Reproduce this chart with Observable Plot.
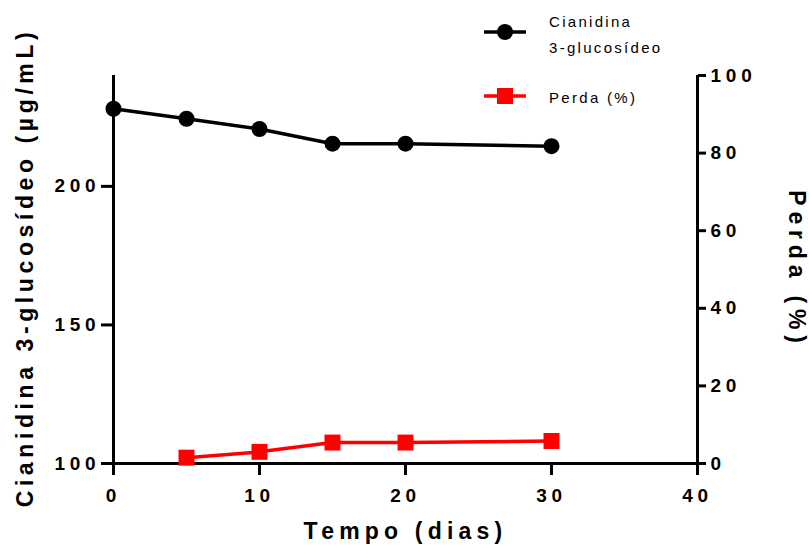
<!DOCTYPE html>
<html>
<head>
<meta charset="utf-8">
<script src="https://cdn.jsdelivr.net/npm/d3@7"></script>
<script src="https://cdn.jsdelivr.net/npm/@observablehq/plot@0.6"></script>
<style>
  html, body { margin: 0; padding: 0; background: #fff; }
  #wrap { position: relative; width: 809px; height: 553px; }
  #chart svg { display: block; font-family: "Liberation Sans", Arial, sans-serif; }
  #chart g[aria-label$="tick label"] text { letter-spacing: 4.8px; }
  #legend { position: absolute; left: 0; top: 0; pointer-events: none; font-family: "Liberation Sans", Arial, sans-serif; }
</style>
</head>
<body>
<div id="wrap">
  <div id="chart"></div>
  <svg id="legend" width="809" height="120"></svg>
</div>
<script>
// ---- data ----
const tempoC3G = [0, 5, 10, 15, 20, 30];
const c3g = [228.0, 224.4, 220.7, 215.4, 215.4, 214.5];
const tempoPerda = [5, 10, 15, 20, 30];
const perda = [1.5, 3.0, 5.4, 5.4, 5.8];

const xTicks = [0, 10, 20, 30, 40];
const leftTicks = [100, 150, 200];
const rightTicks = [0, 20, 40, 60, 80, 100];

const xLabel = "Tempo (dias)";
const leftLabel = "Cianidina 3-glucosídeo (µg/mL)";
const rightLabel = "Perda (%)";
const seriesNames = ["Cianidina", "3-glucosídeo", "Perda (%)"];

// right axis (0–100 %) mapped onto the left axis domain (100–240)
const leftMin = 100, leftMax = 240;
const toLeft = p => leftMin + p * (leftMax - leftMin) / 100;
const fromLeft = v => Math.round((v - leftMin) * 100 / (leftMax - leftMin));

const c3gData = tempoC3G.map((t, i) => ({t, v: c3g[i]}));
const perdaData = tempoPerda.map((t, i) => ({t, v: toLeft(perda[i])}));

const font = {fontSize: 19, fontWeight: "bold"};

const plot = Plot.plot({
  width: 809,
  height: 553,
  marginLeft: 113,
  marginRight: 112,
  marginTop: 75,
  marginBottom: 90,
  style: {fontFamily: "'Liberation Sans', Arial, sans-serif", color: "#000", background: "#fff"},
  x: {domain: [0, 40]},
  y: {domain: [leftMin, leftMax]},
  marks: [
    Plot.axisX({ticks: xTicks, tickSize: 12, tickPadding: 13, strokeWidth: 3, label: null, ...font, tickFormat: d => String(d)}),
    Plot.axisY({anchor: "left", ticks: leftTicks, tickSize: 12, tickPadding: 1, strokeWidth: 3, label: null, ...font, tickFormat: d => String(d)}),
    Plot.axisY({anchor: "right", ticks: rightTicks.map(toLeft), tickSize: 8, tickPadding: 5, strokeWidth: 3, label: null, ...font, tickFormat: fromLeft}),
    Plot.ruleX([0, 40], {strokeWidth: 3}),
    Plot.ruleY([leftMin], {strokeWidth: 3}),
    Plot.line(perdaData, {x: "t", y: "v", stroke: "#ff0000", strokeWidth: 3.5}),
    Plot.dot(perdaData, {x: "t", y: "v", symbol: "square", r: 9, fill: "#ff0000", stroke: null}),
    Plot.line(c3gData, {x: "t", y: "v", stroke: "#000", strokeWidth: 3.5}),
    Plot.dot(c3gData, {x: "t", y: "v", r: 8, fill: "#000", stroke: null}),
    Plot.text([xLabel], {frameAnchor: "bottom", textAnchor: "middle", dy: 75, fontSize: 23, fontWeight: "bold", fill: "#000"}),
    Plot.text([leftLabel], {frameAnchor: "left", textAnchor: "middle", dx: -87.5, dy: -2, rotate: -90, fontSize: 23, fontWeight: "bold", fill: "#000"}),
    Plot.text([rightLabel], {frameAnchor: "right", textAnchor: "middle", dx: 99, dy: 0, rotate: 90, fontSize: 23, fontWeight: "bold", fill: "#000"})
  ]
});
document.getElementById("chart").appendChild(plot);

const svg = d3.select(plot);
svg.selectAll("text").filter(function() { return this.textContent === xLabel; }).style("letter-spacing", "5.2px");
svg.selectAll("text").filter(function() { return this.textContent === leftLabel; }).style("letter-spacing", "4.6px");
svg.selectAll("text").filter(function() { return this.textContent === rightLabel; }).style("letter-spacing", "5.8px");

// legend
const lg = d3.select("#legend");
lg.append("line").attr("x1", 484).attr("x2", 526).attr("y1", 32).attr("y2", 32).attr("stroke", "#000").attr("stroke-width", 3.5);
lg.append("circle").attr("cx", 505).attr("cy", 32).attr("r", 8).attr("fill", "#000");
lg.append("line").attr("x1", 484).attr("x2", 526).attr("y1", 96).attr("y2", 96).attr("stroke", "#ff0000").attr("stroke-width", 3.5);
lg.append("rect").attr("x", 497).attr("y", 88).attr("width", 16).attr("height", 16).attr("fill", "#ff0000");
const lt = [[seriesNames[0], 27], [seriesNames[1], 53], [seriesNames[2], 103]];
lt.forEach(([s, y]) => {
  lg.append("text").attr("x", 549).attr("y", y).attr("font-size", 15).attr("fill", "#000")
    .style("letter-spacing", "2.3px").text(s);
});
</script>
</body>
</html>
